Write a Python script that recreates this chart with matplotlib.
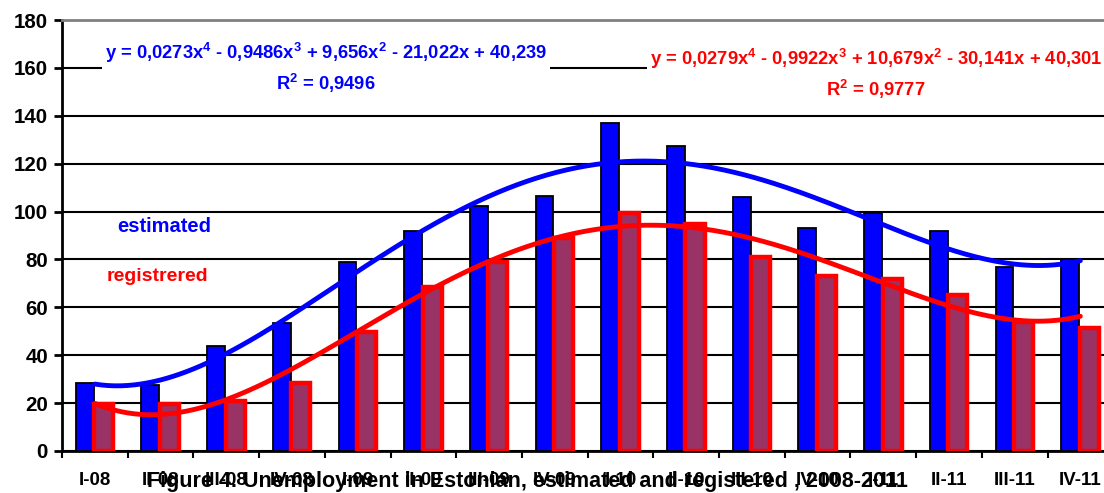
import numpy as np
import matplotlib.pyplot as plt

plt.rcParams['font.family'] = ['Liberation Sans', 'DejaVu Sans']
plt.rcParams['font.weight'] = 'bold'
plt.rcParams['mathtext.fontset'] = 'custom'
plt.rcParams['mathtext.rm'] = 'Liberation Sans:bold'
plt.rcParams['mathtext.bf'] = 'Liberation Sans:bold'
plt.rcParams['mathtext.default'] = 'bf'

# quarters 2008-2011
quarters = ['I-08', 'II-08', 'III-08', 'IV-08', 'I-09', 'II-09', 'III-09', 'IV-09',
            'I-10', 'II-10', 'III-10', 'IV-10', 'I-11', 'II-11', 'III-11', 'IV-11']
estimated = [28.5, 27.5, 44, 53.5, 79, 92, 102.5, 106.5,
             137, 127.5, 106, 93, 99.5, 92, 77, 80]
registered = [19.5, 19.5, 21, 28.5, 49.5, 68.5, 79, 89,
              99.5, 95, 81, 73, 72, 65, 54, 51.5]

# trend line coefficients as printed on the chart (x = 1..16)
est_coef = [0.0273, -0.9486, 9.656, -21.022, 40.239]
reg_coef = [0.0279, -0.9922, 10.679, -30.141, 40.301]
est_eq = 'y = 0,0273x$^4$ - 0,9486x$^3$ + 9,656x$^2$ - 21,022x + 40,239\nR$^2$ = 0,9496'
reg_eq = 'y = 0,0279x$^4$ - 0,9922x$^3$ + 10,679x$^2$ - 30,141x + 40,301\nR$^2$ = 0,9777'

fig = plt.figure(figsize=(11.04, 4.93), dpi=100)
ax = fig.add_axes([62 / 1104, 1 - 451 / 493, 16 * 65.7 / 1104, 431 / 493])

x = np.arange(len(quarters))
ax.bar(x - 0.155, estimated, width=0.27, color='#0000ff', edgecolor='black', linewidth=1.3, zorder=3)
ax.bar(x + 0.135, registered, width=0.29, color='#993366', edgecolor='#ff0000', linewidth=3.2, zorder=4)

# 4th order trend lines
xs = np.linspace(1, 16, 300)
ax.plot(xs - 1, np.polyval(est_coef, xs), color='#0000ff', lw=3.5, zorder=5, solid_capstyle='round')
ax.plot(xs - 1, np.polyval(reg_coef, xs), color='#ff0000', lw=3.5, zorder=5, solid_capstyle='round')

ax.set_xlim(-0.5, 15.5)
ax.set_ylim(0, 180)
ax.set_yticks(range(0, 181, 20))
ax.yaxis.grid(True, color='black', lw=1.5, zorder=0)
ax.set_axisbelow(True)
ax.tick_params(axis='y', labelsize=14.8, length=6, width=2, pad=4)

ax.set_xticks(x)
ax.set_xticklabels(quarters)
ax.set_xticks(np.arange(-0.5, 16, 1), minor=True)
ax.tick_params(axis='x', which='major', length=0, labelsize=13.5, pad=15)
ax.tick_params(axis='x', which='minor', length=5, width=1.5)

for s in ['left', 'bottom']:
    ax.spines[s].set_linewidth(2)
ax.spines['top'].set_color('#808080')
ax.spines['top'].set_linewidth(2)
ax.spines['right'].set_visible(False)

ax.text(3.52, 160, est_eq, color='#0000ff', fontsize=13.2, ha='center', va='center',
        linespacing=1.4, zorder=6, bbox=dict(facecolor='white', edgecolor='none', pad=2))
ax.text(11.89, 157.5, reg_eq, color='#ff0000', fontsize=13.2, ha='center', va='center',
        linespacing=1.4, zorder=6, bbox=dict(facecolor='white', edgecolor='none', pad=2))

ax.text(1.05, 93.6, 'estimated', color='#0000ff', fontsize=14.5, ha='center', va='center')
ax.text(0.96, 72.7, 'registrered', color='#ff0000', fontsize=14, ha='center', va='center')

fig.text(527 / 1104, 1 - 482 / 493, 'Figure 4. Unemployment in Estonian, estimated and registered , 2008-2011',
         fontsize=15.5, ha='center', va='center')

fig.savefig('out.png', dpi=100)
